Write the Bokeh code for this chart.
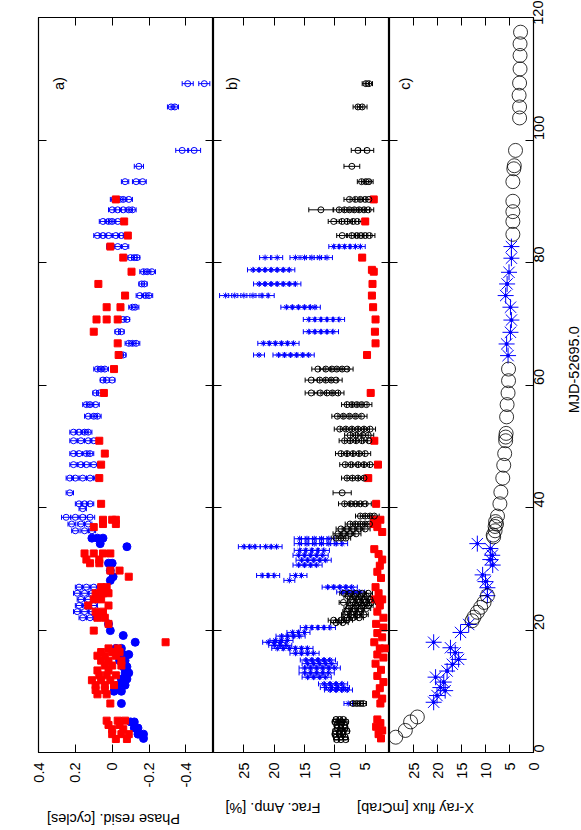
from math import pi
from bokeh.plotting import figure
from bokeh.models import (Range1d, LinearAxis, FixedTicker, Label, Whisker,
                          ColumnDataSource, TeeHead)
from bokeh.layouts import row, column
from bokeh.embed import file_html
from bokeh.resources import INLINE

FONT = "Liberation Sans"
FS = "14.5px"
BLUE = "#0000ff"
RED = "#ff0000"

# ---------------- data: (MJD-52695, [values]) or (MJD, err, [values]) ----------------
# Panel a) phase residuals [cycles]
a_blue_open = [
    (109.2, 0.03, [-0.41, -0.50]), (105.4, 0.02, [-0.32, -0.34]),
    (98.3, 0.035, [-0.38, -0.445]), (95.7, 0.025, [-0.145]),
    (93.2, 0.02, [-0.07, -0.13, -0.165]), (90.3, 0.02, [-0.01, -0.04, -0.06, -0.09]),
    (88.6, 0.02, [0.0, -0.03, -0.06, -0.09, -0.11]), (86.7, 0.02, [0.05, 0.02, 0.0, -0.03]),
    (84.4, 0.02, [0.08, 0.05, 0.02, -0.02, -0.05, -0.08]), (82.6, 0.02, [0.01, -0.03, -0.07]),
    (80.8, 0.015, [-0.10, -0.12, -0.135]), (78.5, 0.02, [-0.17, -0.19, -0.215]),
    (76.5, 0.015, [-0.16, -0.175]), (74.6, 0.02, [-0.15, -0.18, -0.20]),
    (72.7, 0.02, [-0.11, -0.125]), (70.7, 0.015, [-0.06, -0.08]),
    (68.7, 0.015, [-0.03, -0.05]), (66.8, 0.02, [-0.09, -0.11, -0.13]),
    (64.9, 0.015, [-0.045, -0.06]), (62.6, 0.02, [0.08, 0.06, 0.04]),
    (60.8, 0.015, [0.05, 0.03, 0.0]), (58.7, 0.015, [0.09, 0.07]),
    (56.8, 0.02, [0.14, 0.12, 0.09]), (54.9, 0.02, [0.13, 0.10, 0.08]),
    (52.3, 0.02, [0.21, 0.18, 0.15, 0.13]), (50.9, 0.02, [0.21, 0.17, 0.13, 0.10]),
    (48.8, 0.02, [0.21, 0.18, 0.14, 0.12]), (47.0, 0.02, [0.21, 0.17, 0.14, 0.10]),
    (44.8, 0.02, [0.23, 0.20, 0.16, 0.12, 0.08]), (42.4, 0.02, [0.23]),
    (40.6, 0.02, [0.18, 0.15, 0.12]), (39.8, 0.02, [0.16]),
    (38.4, 0.025, [0.25, 0.20, 0.16, 0.12]), (37.3, 0.02, [0.22, 0.17, 0.13]),
    (36.2, 0.02, [0.20, 0.15, 0.11]), (27.0, 0.02, [0.18, 0.14, 0.10]),
    (26.0, 0.02, [0.19, 0.15, 0.11]), (25.0, 0.02, [0.17, 0.13, 0.09]),
    (24.0, 0.02, [0.18, 0.14, 0.10]), (23.0, 0.02, [0.19, 0.15, 0.11]),
    (22.0, 0.02, [0.16, 0.12, 0.08]),
]
a_blue_filled = [
    (35.0, [0.11, 0.08, 0.05]), (34.1, [0.065]), (33.6, [-0.08]), (30.9, [0.02, 0.0]),
    (29.7, [0.01]), (28.7, [-0.005]), (28.1, [0.01]), (21.0, [0.02]), (19.9, [0.01]),
    (19.1, [-0.06]), (18.0, [-0.125]), (17.0, [-0.02, -0.05]), (16.0, [-0.06, -0.09]),
    (15.0, [-0.04, -0.07]), (14.0, [-0.06, -0.08]), (13.0, [-0.07, -0.09]),
    (12.0, [-0.05, -0.08]), (11.0, [-0.03, -0.07]), (10.0, [-0.01, -0.05]),
    (8.0, [-0.05]), (5.0, [-0.10, -0.12]), (4.0, [-0.12, -0.14]),
    (3.0, [-0.14, -0.17]), (2.3, [-0.17]),
]
a_red = [
    (90.3, [-0.02]), (86.7, [-0.065]), (84.4, [-0.085]), (82.6, [0.01]), (80.8, [-0.06]),
    (78.5, [-0.105]), (76.5, [0.075]), (74.6, [-0.07]), (72.7, [0.03, -0.045]),
    (70.7, [0.085, 0.03, -0.03]), (68.7, [0.10]), (66.8, [-0.03]), (64.9, [-0.035]),
    (62.6, [-0.01]), (58.7, [0.045]), (50.9, [0.07]), (48.8, [0.04]), (47.0, [0.06]),
    (44.8, [0.07]), (40.6, [0.06]), (38.0, [0.05, 0.0, -0.02]), (37.3, [0.05, -0.02]),
    (36.8, [0.10]), (32.5, [0.15, 0.10, 0.05, 0.01]), (31.5, [0.14, 0.07]),
    (30.9, [0.12, 0.07]), (29.7, [0.01, -0.04]), (28.7, [-0.09]), (27.0, [0.06, 0.03]),
    (26.0, [0.09, 0.05, 0.02]), (25.0, [0.10, 0.06]), (24.0, [0.13, 0.02]),
    (23.0, [0.09, 0.05]), (22.0, [0.08, 0.04]), (21.0, [0.02]), (19.9, [0.10]),
    (18.0, [-0.29]), (17.0, [0.02, -0.03]), (16.4, [0.06, 0.0, -0.04]),
    (15.8, [0.08, 0.04, -0.02]), (15.0, [0.06, 0.02, -0.05]), (14.2, [0.04, 0.0, -0.05]),
    (13.4, [0.08, 0.02]), (12.6, [0.07, 0.03, -0.02]), (11.8, [0.11, 0.06, 0.01]),
    (11.0, [0.09, 0.04, -0.01]), (10.2, [0.09, 0.04]), (9.5, [0.08, 0.03]),
    (8.0, [0.01]), (5.2, [0.03, -0.03, -0.07]), (4.5, [0.02, -0.04]),
    (3.8, [0.0, -0.06]), (3.0, [0.0, -0.05, -0.09]), (2.2, [-0.02, -0.08]),
]

# Panel b) fractional amplitude [%]
b_black = [
    (109.2, 0.6, [4.9, 4.4]), (105.4, 0.8, [6.2, 5.5]), (98.3, 1.1, [6.2, 4.7]),
    (95.7, 1.3, [7.2]), (93.2, 0.7, [5.6, 4.9, 4.4]), (90.3, 0.9, [7.6, 6.6, 5.8, 5.0, 4.4]),
    (88.6, 2.0, [12.3]), (88.6, 0.9, [9.3, 8.4, 7.6, 6.8, 6.0, 5.2, 4.5]),
    (86.7, 0.9, [10.2, 8.8, 8.0, 7.0, 6.3]), (84.4, 0.9, [8.8, 7.2, 6.4, 5.7, 5.0, 4.3]),
    (62.6, 1.0, [12.8, 11.5, 10.5, 9.7, 8.8, 8.0]), (60.8, 1.0, [13.9, 12.5, 11.5, 10.6, 9.8]),
    (58.7, 1.0, [13.9, 12.4, 11.3, 10.4, 9.5]), (56.8, 0.9, [8.0, 7.2, 6.4, 5.6, 4.8]),
    (54.9, 0.9, [9.6, 8.6, 7.6, 6.6, 5.6]), (52.8, 0.9, [9.2, 8.2, 7.2, 6.2, 5.2, 4.2]),
    (51.8, 0.9, [7.5, 6.5, 5.4, 4.5]), (50.9, 0.9, [8.4, 7.5, 6.5, 5.5, 4.4]),
    (48.8, 0.9, [9.0, 8.0, 7.0, 6.0, 5.0]), (47.0, 0.9, [8.3, 7.3, 6.2, 5.2, 4.2]),
    (44.8, 0.9, [8.0, 7.1, 6.2, 5.2]), (42.4, 1.5, [8.8]),
    (40.6, 1.0, [8.4, 7.4, 6.6, 5.8, 5.0]), (38.6, 0.8, [5.8, 5.0, 4.2, 3.5]),
    (37.3, 0.8, [7.5, 6.6, 5.8, 5.0, 4.3]), (36.5, 0.8, [9.0, 8.0, 7.0, 6.0, 5.0]),
    (35.7, 0.8, [9.5, 8.5, 7.5, 6.5]), (35.0, 0.8, [9.8, 9.0, 8.2]),
    (26.0, 0.7, [8.5, 7.5, 6.5, 5.5, 4.5]), (25.5, 0.7, [7.8, 6.8, 5.8, 4.8]),
    (25.0, 0.7, [7.2, 6.2, 5.2, 4.2]), (24.5, 0.7, [8.6, 7.0, 6.0, 5.0, 4.0]),
    (24.0, 0.7, [7.4, 6.4, 5.4, 4.4]), (23.5, 0.7, [7.8, 6.8, 5.8, 4.8]),
    (23.0, 0.7, [8.0, 7.0, 6.0]), (22.5, 0.7, [8.2, 7.2, 6.2, 5.2]),
    (22.0, 0.7, [8.0, 7.0, 6.0]), (21.6, 0.9, [10.2, 9.0, 8.0]), (21.2, 0.9, [9.8, 8.7]),
    (8.0, 0.5, [7.0, 6.4, 5.8, 5.3]), (5.4, 0.4, [9.8, 9.2, 8.6]),
    (5.0, 0.4, [10.0, 9.4, 8.8, 8.2]), (4.5, 0.4, [9.7, 9.0, 8.4]),
    (4.0, 0.4, [9.6, 9.0, 8.3]), (3.5, 0.4, [9.9, 9.2, 8.6, 8.0]),
    (3.0, 0.4, [10.0, 9.3, 8.7]), (2.5, 0.4, [9.8, 9.0, 8.3]), (2.1, 0.4, [9.7, 9.0, 8.2]),
]
b_blue = [
    (82.6, 0.8, [10.2, 9.3, 8.4, 7.5, 6.6, 5.8]),
    (80.8, 0.9, [21.5, 19.5, 16.5, 15.0, 13.8, 12.5, 11.3]),
    (78.8, 0.9, [23.5, 22.5, 21.5, 20.5, 19.5, 18.5, 17.5]),
    (76.5, 0.9, [22.5, 21.5, 20.5, 19.5, 18.5, 17.5, 16.5]),
    (74.6, 1.0, [28.0, 26.5, 25.0, 23.5, 22.0, 21.0]),
    (72.7, 0.9, [18.0, 17.0, 16.0, 15.0, 14.0, 13.3]),
    (70.7, 0.9, [14.3, 13.3, 12.3, 11.3, 10.3, 9.3]),
    (68.7, 0.9, [14.3, 13.3, 12.3, 11.3, 10.3]),
    (66.8, 0.9, [21.8, 20.8, 19.8, 18.8, 17.8, 16.8]),
    (64.9, 0.9, [22.5, 19.3, 18.3, 17.3, 16.3, 15.3, 14.3]),
    (34.9, 0.9, [15.8, 14.6, 13.4, 12.2, 11.0]),
    (34.1, 0.9, [15.8, 14.6, 13.4, 12.2, 11.0, 9.8, 8.8]),
    (33.6, 0.9, [25.0, 24.0, 23.2, 21.4, 20.5, 19.6]),
    (33.0, 0.9, [15.8, 14.8, 13.8, 12.8, 11.8]), (32.2, 0.9, [16.0, 15.0, 14.0, 13.0, 12.0]),
    (31.4, 0.9, [15.5, 14.5, 13.5, 12.5, 11.5]), (30.6, 0.9, [16.0, 15.0, 14.0, 13.0]),
    (28.9, 0.9, [22.0, 21.0, 20.0, 16.5, 15.5]), (28.1, 0.9, [17.5]),
    (27.0, 0.9, [11.2, 10.2, 9.2, 8.2, 7.2]), (26.2, 0.9, [8.8, 7.8, 6.8, 6.0]),
    (20.4, 0.9, [14.8, 13.8, 12.8, 11.8, 10.8]), (19.6, 0.9, [17.0, 16.0, 15.0]),
    (19.0, 0.9, [18.8, 17.8, 16.8, 15.8]), (18.3, 0.9, [19.8, 18.8, 17.8]),
    (18.0, 0.9, [21.0, 20.0, 19.0]), (17.5, 0.9, [20.0, 19.0, 18.0]),
    (17.0, 0.9, [19.5, 18.5, 17.5, 16.5, 15.5, 14.5]), (16.2, 0.9, [16.5, 15.5, 14.5, 13.5]),
    (15.1, 0.9, [14.8, 13.8, 12.8, 11.8, 10.8]), (14.5, 0.9, [14.5, 13.5, 12.5, 11.5, 10.5]),
    (13.8, 0.9, [15.0, 14.0, 13.0, 12.0, 11.0, 10.0]), (13.0, 0.9, [15.0, 14.0, 13.0, 12.0, 11.0]),
    (12.3, 0.9, [14.5, 13.5, 12.5, 11.5]), (11.2, 0.9, [11.8, 10.8, 9.8, 8.8]),
    (10.6, 0.9, [11.5, 10.5, 9.5, 8.5]), (10.2, 0.9, [10.8, 9.8, 8.8, 8.0]), (8.0, 0.7, [7.8]),
]
b_red = [
    (90.3, [3.6]), (86.7, [5.0]), (80.8, [5.5]), (78.8, [3.9]), (78.5, [3.6]), (76.5, [3.8]),
    (74.6, [3.9]), (72.7, [3.7]), (70.7, [3.3]), (68.7, [3.4]), (66.8, [3.3]), (64.9, [4.7]),
    (58.7, [4.1]), (50.9, [3.5]), (47.0, [2.9]), (44.8, [4.5]), (40.6, [3.2]),
    (38.0, [3.5, 2.5]), (37.3, [3.6]), (36.8, [3.0]), (36.0, [2.2]), (33.2, [3.5]),
    (32.4, [2.8]), (31.5, [2.2]), (30.5, [2.6]), (29.5, [3.0]), (28.5, [2.4]), (27.0, [3.3]),
    (26.0, [2.8]), (25.0, [3.4, 2.2]), (24.0, [2.6]), (23.0, [3.0]), (22.0, [2.0]),
    (21.0, [3.2]), (20.4, [2.0]), (19.5, [3.0]), (18.8, [2.2]), (18.0, [3.5]),
    (17.0, [2.6, 1.8]), (16.0, [3.0]), (15.5, [2.0]), (14.5, [3.3]), (13.5, [2.4]),
    (12.5, [3.0]), (11.5, [2.0]), (10.5, [2.6]), (9.5, [3.2]), (8.8, [2.2]), (8.0, [2.5]),
    (5.4, [3.0]), (4.8, [2.5]), (4.2, [3.2]), (3.6, [2.2]), (3.0, [2.8]), (2.3, [2.4]),
]

# Panel c) X-ray flux [mCrab]
c_black_mjd = [2.5, 3.6, 5.0, 5.8, 21.5, 22.1, 22.9, 23.7, 24.5, 25.6, 35.2, 35.5, 36.2,
               36.9, 37.3, 37.7, 38.6, 40.6, 42.5, 44.8, 46.9, 48.8, 50.9, 51.5, 52.1,
               54.8, 56.8, 58.7, 60.7, 62.6, 84.6, 86.7, 88.3, 90.0, 93.2, 95.3, 95.8,
               98.3, 103.6, 105.4, 107.3, 109.3, 111.6, 113.8, 115.7, 117.6]
c_black_flux = [28.7, 26.7, 25.6, 24.2, 12.8, 12.4, 11.7, 11.0, 10.3, 9.6, 8.3, 8.4, 8.0,
                8.0, 7.7, 7.9, 7.5, 7.0, 6.8, 6.4, 6.2, 6.0, 5.8, 5.8, 5.7,
                5.6, 5.5, 5.3, 5.2, 5.2, 4.3, 4.3, 4.3, 4.3, 4.3, 4.1, 4.0,
                3.75, 2.9, 2.9, 3.0, 2.9, 2.8, 2.8, 2.8, 2.7]
c_blue_mjd = [8.2, 9.3, 10.1, 10.6, 11.5, 12.3, 13.3, 14.4, 15.2, 16.3, 17.1, 18.0, 19.6,
              20.9, 25.6, 26.9, 27.9, 29.0, 30.6, 31.5, 32.2, 33.3, 34.1, 64.8, 66.7,
              68.6, 70.6, 72.7, 74.6, 76.5, 78.4, 80.7, 82.6]
c_blue_flux = [20.8, 20.1, 18.4, 19.4, 18.7, 20.4, 18.0, 16.9, 15.6, 16.3, 17.3, 20.8, 15.2,
               13.5, 9.6, 9.6, 10.0, 10.6, 8.5, 9.0, 8.6, 9.0, 11.7, 5.3, 5.6,
               4.8, 4.6, 4.8, 5.8, 5.5, 5.1, 4.6, 4.6]

mjd_ticks = [0, 20, 40, 60, 80, 100, 120]
a_ticks = [0.4, 0.2, 0.0, -0.2, -0.4]
a_tick_labels = ["0.4", "0.2", "0", "-0.2", "-0.4"]
b_ticks = [25, 20, 15, 10, 5]
c_ticks = [25, 20, 15, 10, 5, 0]
axis_titles = ["Phase resid. [cycles]", "Frac. Amp. [%]", "X-ray flux [mCrab]"]
time_title = "MJD-52695.0"


def flat_err(groups):
    m, v, e = [], [], []
    for mjd, err, vals in groups:
        for val in vals:
            m.append(mjd); v.append(val); e.append(err)
    return dict(y=m, x=v, lo=[a - b for a, b in zip(v, e)], hi=[a + b for a, b in zip(v, e)])


def flat(groups):
    m, v = [], []
    for mjd, vals in groups:
        for val in vals:
            m.append(mjd); v.append(val)
    return dict(y=m, x=v)


H = 795          # panel figure height: 17 top + 735 frame + 43 bottom
STRIP_H = 35     # strip with the rotated axis titles below the panels
W_A, W_B, W_C = 213, 176, 170
W_R = 581 - W_A - W_B - W_C


def style_axis(ax, labels=True, orient=pi / 2, standoff=10):
    ax.axis_line_color = None
    ax.major_tick_in = 8
    ax.major_tick_out = 0
    ax.major_tick_line_color = "black"
    ax.major_tick_line_width = 1
    ax.minor_tick_line_color = None
    ax.major_label_orientation = orient
    if labels:
        ax.major_label_text_font = FONT
        ax.major_label_text_font_size = FS
        ax.major_label_text_color = "black"
        ax.major_label_standoff = standoff
    else:
        ax.major_label_text_font_size = "0px"
        ax.major_label_standoff = 0
        ax.major_label_text_alpha = 0


def bare(width, height):
    p = figure(width=width, height=height, x_range=Range1d(0, width), y_range=Range1d(0, height),
               output_backend="svg", toolbar_location=None, min_border=0,
               x_axis_location=None, y_axis_location=None)
    p.xgrid.visible = False
    p.ygrid.visible = False
    p.outline_line_color = None
    return p


def make_panel(x0, x1, width, lb, rb, ticks, overrides, right_labels=False):
    p = figure(width=width, height=H, x_range=Range1d(x0, x1), y_range=Range1d(0, 120),
               output_backend="svg", toolbar_location=None,
               min_border_left=lb, min_border_right=rb, min_border_top=17, min_border_bottom=43,
               x_axis_location=None, y_axis_location=None)
    p.xgrid.visible = False
    p.ygrid.visible = False
    p.outline_line_color = "black"
    p.outline_line_width = 1.2
    p.outline_line_alpha = 1

    below = LinearAxis(ticker=FixedTicker(ticks=ticks), major_label_overrides=overrides)
    style_axis(below, True, pi / 2, 10)
    p.add_layout(below, "below")
    above = LinearAxis(ticker=FixedTicker(ticks=ticks))
    style_axis(above, False)
    p.add_layout(above, "above")
    left = LinearAxis(ticker=FixedTicker(ticks=mjd_ticks))
    style_axis(left, False)
    p.add_layout(left, "left")
    right = LinearAxis(ticker=FixedTicker(ticks=mjd_ticks))
    if right_labels:
        style_axis(right, True, pi / 2, 5)
    else:
        style_axis(right, False)
    p.add_layout(right, "right")
    return p


def errbars(p, src, color, size=5):
    w = Whisker(source=src, base="y", lower="lo", upper="hi", dimension="width",
                line_color=color, line_width=1,
                upper_head=TeeHead(size=size, line_color=color, line_width=1),
                lower_head=TeeHead(size=size, line_color=color, line_width=1))
    p.add_layout(w)


def text_label(p, x, y, text, angle):
    p.add_layout(Label(x=x, y=y, text=text, angle=angle, text_align="center",
                       text_baseline="middle", text_font=FONT, text_font_size=FS,
                       text_color="black"))


# ---------------- panel a ----------------
pa = make_panel(0.4, -0.55, W_A, 38, 0, a_ticks, dict(zip(a_ticks, a_tick_labels)))
src = ColumnDataSource(flat_err(a_blue_open))
errbars(pa, src, BLUE, 5)
pa.scatter("x", "y", source=src, marker="circle", size=6, fill_color=None, line_color=BLUE, line_width=1)
pa.scatter("x", "y", source=ColumnDataSource(flat(a_blue_filled)), marker="circle", size=8,
           fill_color=BLUE, line_color=BLUE)
pa.scatter("x", "y", source=ColumnDataSource(flat(a_red)), marker="square", size=7,
           fill_color=RED, line_color=RED)
text_label(pa, 0.29, 109.2, "a)", pi / 2)

# ---------------- panel b ----------------
pb = make_panel(30, 1, W_B, 0, 0, b_ticks, {t: str(t) for t in b_ticks})
rd = flat(b_red)
src_r = ColumnDataSource({**rd, "lo": [v - 0.5 for v in rd["x"]], "hi": [v + 0.5 for v in rd["x"]]})
errbars(pb, src_r, RED, 5)
pb.scatter("x", "y", source=src_r, marker="square", size=7, fill_color=RED, line_color=RED)
src_bl = ColumnDataSource(flat_err(b_blue))
errbars(pb, src_bl, BLUE, 5)
pb.scatter("x", "y", source=src_bl, marker="asterisk", size=6, line_color=BLUE, line_width=1)
src_k = ColumnDataSource(flat_err(b_black))
errbars(pb, src_k, "black", 5)
pb.scatter("x", "y", source=src_k, marker="circle", size=6, fill_color=None, line_color="black",
           line_width=1)
text_label(pb, 26.9, 109.2, "b)", pi / 2)

# ---------------- panel c ----------------
pc = make_panel(30, 0, W_C, 0, W_C - 144, c_ticks, {t: str(t) for t in c_ticks}, right_labels=True)
pc.scatter(c_blue_flux, c_blue_mjd, marker="asterisk", size=16, line_color=BLUE, line_width=1)
pc.scatter(c_blue_flux, c_blue_mjd, marker="circle", size=3, fill_color=BLUE, line_color=BLUE)
pc.scatter(c_black_flux, c_black_mjd, marker="circle", size=14, fill_color=None,
           line_color="black", line_width=0.8)
text_label(pc, 26.7, 109.2, "c)", pi / 2)

# ---------------- title strips ----------------
right_strip = bare(W_R, H)
text_label(right_strip, 573 - (W_A + W_B + W_C), H - 381, time_title, pi / 2)

bottom_strip = bare(581, STRIP_H)
for xc, yc, t in zip([113, 272, 415], [12, 23, 23], axis_titles):
    text_label(bottom_strip, xc, yc, t, pi)

layout = column(row(pa, pb, pc, right_strip, spacing=0), bottom_strip, spacing=0)
open("out.html", "w").write(file_html(layout, INLINE))
